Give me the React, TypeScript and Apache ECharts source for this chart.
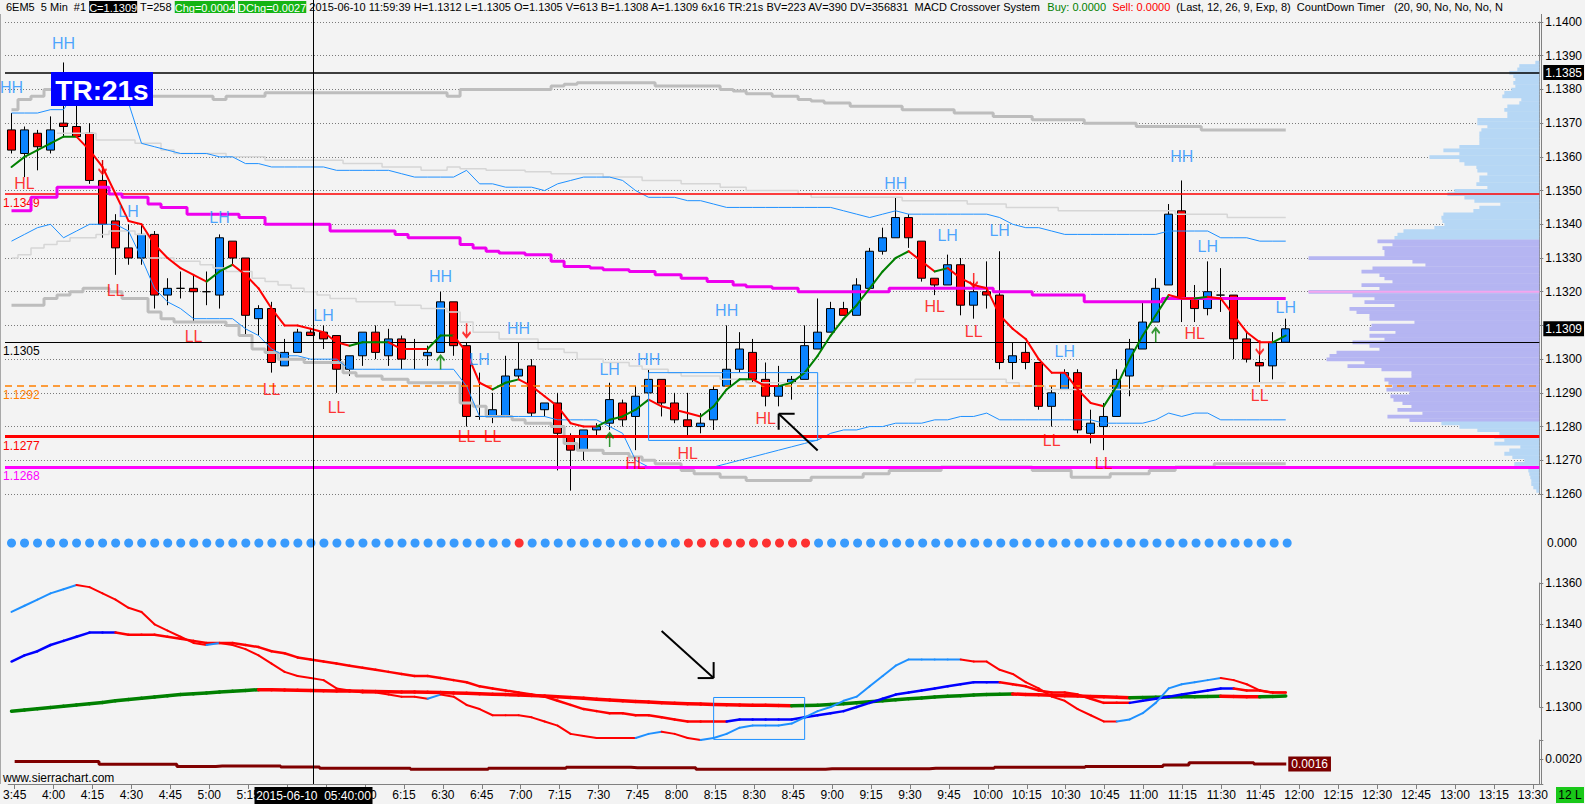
import React, { useEffect, useRef } from 'react';
import * as echarts from 'echarts';

// ---------- layout ----------
const GRID_L = 5;
const GRID_W = 1536;
const GRID_R = GRID_L + GRID_W;
const MAIN_TOP = 22, MAIN_H = 472;
const DOT_TOP = 533, DOT_H = 20;
const MACD_TOP = 583, MACD_H = 124;
const BOT_TOP = 740, BOT_H = 44;

const NARROW = "'Liberation Sans Narrow', 'Arial Narrow', 'Liberation Sans', Arial, sans-serif";
const SANS = "'Liberation Sans', Arial, sans-serif";
const BG = '#F3F3F3';
const CANDLE_BLUE = '#0A84FF';
const RED = '#FF0000';
const LBLUE = '#1E90FF';

// ---------- time axis ----------
const times: string[] = [];
for (let m = 3 * 60 + 45; m <= 13 * 60 + 30; m += 5) {
  times.push(`${Math.floor(m / 60)}:${String(m % 60).padStart(2, '0')}`);
}
const CROSSHAIR_TIME = '5:40';
// time labels completely covered by the crosshair time stamp in the reference
const coveredTimeLabels = ['5:30', '5:45'];
// price label covered by the last-price box in the reference
const coveredPriceLabels = [1.131];

// ---------- price bars (5 min, 6EM5) ----------
const opens = [1.1368,1.1361,1.1367,1.1362,1.1370,1.1369,1.1367,1.1353,1.1341,1.1333,
1.1330,1.1337,1.1319,1.1321,1.1321,1.1320,1.1319,1.1335,1.1330,1.1312,
1.1315,1.1298,1.1302,1.1308,1.1308,1.1307,1.1297,1.1301,1.1308,1.1301,
1.1306,1.1303,1.1301,1.1302,1.1317,1.1304,1.1283,1.1283,1.1283,1.1295,
1.1298,1.1285,1.1287,1.1277,1.1273,1.1279,1.1281,1.1287,1.1283,1.1290,
1.1294,1.1287,1.1282,1.1280,1.1282,1.1292,1.1297,1.1302,1.1294,1.1289,
1.1293,1.1294,1.1303,1.1308,1.1315,1.1313,1.1321,1.1332,1.1336,1.1342,
1.1335,1.1324,1.1322,1.1328,1.1316,1.1320,1.1319,1.1299,1.1302,1.1299,
1.1286,1.1291,1.1296,1.1278,1.1280,1.1283,1.1295,1.1303,1.1311,1.1322,
1.1344,1.1318,1.1315,1.1319,1.1319,1.1306,1.1299,1.1298,1.1305];
const highs = [1.1373,1.1369,1.1368,1.1372,1.1388,1.1378,1.1370,1.1359,1.1343,1.1340,
1.1340,1.1338,1.1324,1.1326,1.1325,1.1326,1.1337,1.1335,1.1330,1.1316,
1.1317,1.1306,1.1309,1.1309,1.1310,1.1307,1.1301,1.1308,1.1310,1.1309,
1.1307,1.1306,1.1304,1.1320,1.1317,1.1305,1.1296,1.1290,1.1301,1.1305,
1.1300,1.1287,1.1290,1.1278,1.1279,1.1281,1.1293,1.1288,1.1292,1.1297,
1.1294,1.1290,1.1290,1.1284,1.1292,1.1310,1.1308,1.1306,1.1299,1.1298,
1.1295,1.1310,1.1318,1.1317,1.1317,1.1324,1.1333,1.1339,1.1348,1.1343,
1.1335,1.1324,1.1331,1.1330,1.1323,1.1329,1.1332,1.1305,1.1305,1.1299,
1.1292,1.1297,1.1297,1.1285,1.1287,1.1297,1.1306,1.1317,1.1324,1.1346,
1.1353,1.1322,1.1329,1.1327,1.1319,1.1308,1.1302,1.1308,1.1312];
const lows = [1.1361,1.1354,1.1356,1.1361,1.1366,1.1366,1.1352,1.1336,1.1325,1.1328,
1.1328,1.1315,1.1316,1.1318,1.1311,1.1316,1.1315,1.1328,1.1307,1.1307,
1.1296,1.1298,1.1302,1.1307,1.1303,1.1290,1.1295,1.1298,1.1300,1.1298,
1.1297,1.1297,1.1298,1.1302,1.1301,1.1280,1.1282,1.1281,1.1283,1.1294,
1.1283,1.1283,1.1267,1.1261,1.1270,1.1277,1.1279,1.1280,1.1273,1.1289,
1.1283,1.1281,1.1277,1.1278,1.1279,1.1292,1.1296,1.1293,1.1286,1.1286,
1.1288,1.1294,1.1303,1.1308,1.1313,1.1313,1.1321,1.1331,1.1336,1.1333,
1.1323,1.1319,1.1322,1.1313,1.1312,1.1315,1.1297,1.1294,1.1297,1.1285,
1.1280,1.1291,1.1278,1.1275,1.1273,1.1283,1.1289,1.1303,1.1311,1.1322,
1.1311,1.1311,1.1313,1.1314,1.1300,1.1299,1.1293,1.1294,1.1305];
const closes = [1.1362,1.1368,1.1363,1.1368,1.1369,1.1366,1.1353,1.1340,1.1333,1.1330,
1.1337,1.1319,1.1321,1.1321,1.1320,1.1320,1.1336,1.1330,1.1313,1.1315,
1.1299,1.1302,1.1308,1.1307,1.1306,1.1297,1.1301,1.1308,1.1302,1.1306,
1.1300,1.1303,1.1302,1.1317,1.1304,1.1283,1.1283,1.1285,1.1295,1.1297,
1.1284,1.1287,1.1278,1.1273,1.1279,1.1280,1.1288,1.1282,1.1289,1.1294,
1.1287,1.1282,1.1280,1.1281,1.1291,1.1297,1.1303,1.1294,1.1289,1.1292,
1.1294,1.1304,1.1308,1.1315,1.1313,1.1322,1.1332,1.1336,1.1342,1.1336,
1.1324,1.1322,1.1328,1.1316,1.1320,1.1319,1.1299,1.1301,1.1299,1.1286,
1.1290,1.1296,1.1279,1.1281,1.1283,1.1294,1.1303,1.1311,1.1321,1.1343,
1.1318,1.1315,1.1320,1.1319,1.1306,1.1300,1.1298,1.1305,1.1309];

// ---------- main panel studies ----------
const maLine = [1.1357,1.1360,1.1362,1.1364,1.1366,1.1366,1.1362,1.1357,1.1349,1.1341,
1.1340,1.1334,1.1330,1.1327,1.1325,1.1323,1.1326,1.1328,1.1325,1.1321,
1.1315,1.1310,1.1310,1.1309,1.1308,1.1305,1.1304,1.1305,1.1305,1.1305,
1.1303,1.1303,1.1303,1.1307,1.1307,1.1302,1.1293,1.1291,1.1293,1.1294,
1.1292,1.1289,1.1286,1.1281,1.1280,1.1280,1.1282,1.1283,1.1285,1.1288,
1.1286,1.1285,1.1284,1.1283,1.1286,1.1291,1.1294,1.1294,1.1292,1.1292,
1.1293,1.1296,1.1301,1.1307,1.1312,1.1316,1.1321,1.1326,1.1330,1.1332,
1.1329,1.1326,1.1327,1.1324,1.1322,1.1321,1.1313,1.1309,1.1306,1.1300,
1.1296,1.1296,1.1291,1.1287,1.1286,1.1292,1.1300,1.1307,1.1313,1.1319,
1.1318,1.1318,1.13185,1.1318,1.1313,1.1308,1.1305,1.1305,1.1307];

const magentaLine = [1.1344,1.1344,1.1348,1.1348,1.1351,1.1351,1.1351,1.1351,1.1349,1.1348,
1.1348,1.1346,1.1345,1.1345,1.1343,1.1343,1.1343,1.1343,1.1342,1.1342,
1.1340,1.1340,1.1340,1.1340,1.1340,1.1338,1.1338,1.1338,1.1338,1.1338,
1.1337,1.1336,1.1336,1.1336,1.1336,1.1334,1.1333,1.1332,1.13315,1.13315,
1.1331,1.1331,1.1329,1.13275,1.13275,1.1327,1.13265,1.13265,1.1326,1.1326,
1.1325,1.1325,1.1324,1.1324,1.1323,1.1323,1.1322,1.13215,1.13215,1.1321,
1.1321,1.1320,1.1320,1.1320,1.1320,1.1320,1.1320,1.1320,1.1321,1.1321,
1.1321,1.1321,1.1321,1.1321,1.1321,1.1321,1.1320,1.1320,1.1320,1.1319,
1.1319,1.1319,1.1319,1.1317,1.1317,1.1317,1.1317,1.1317,1.1317,1.1318,
1.1318,1.1318,1.1318,1.1318,1.1318,1.1318,1.1318,1.1318,1.1318];

const grayTop = [1.1374,1.1377,1.1378,1.1380,1.1380,1.1380,1.1380,1.1380,1.1379,1.1379,
1.1379,1.1378,1.1378,1.1378,1.1378,1.1378,1.1377,1.1378,1.1378,1.1378,
1.1379,1.1379,1.1379,1.1379,1.1379,1.1379,1.1379,1.1379,1.1379,1.1379,
1.1379,1.1379,1.1379,1.1379,1.1378,1.1380,1.1380,1.1380,1.1380,1.1380,
1.1380,1.1380,1.1381,1.13815,1.1382,1.1382,1.1382,1.1382,1.1382,1.1382,
1.1381,1.1381,1.1381,1.1381,1.1381,1.1380,1.13795,1.13787,1.13787,1.1378,
1.1378,1.1377,1.13766,1.1376,1.1376,1.1375,1.1375,1.1375,1.1375,1.1374,
1.1374,1.1374,1.1374,1.1373,1.1373,1.1373,1.1372,1.1372,1.1372,1.1371,
1.1371,1.1371,1.1371,1.1370,1.1370,1.1370,1.1370,1.1369,1.1369,1.1369,
1.1369,1.1369,1.1368,1.1368,1.1368,1.1368,1.1368,1.1368,1.1368];

const grayLow = [1.1316,1.1316,1.1316,1.1318,1.1319,1.1320,1.1321,1.1321,1.1320,1.1318,
1.1318,1.1314,1.1312,1.1311,1.1311,1.1311,1.1311,1.1310,1.1307,1.1303,
1.1302,1.1300,1.1300,1.1299,1.1299,1.1299,1.1296,1.1295,1.1295,1.1294,
1.1294,1.1293,1.1293,1.1293,1.1293,1.1287,1.1286,1.1283,1.1283,1.1282,
1.1281,1.1281,1.1280,1.1275,1.1273,1.1273,1.1272,1.1272,1.1271,1.1270,
1.1269,1.1269,1.1267,1.1266,1.1266,1.1265,1.1265,1.1264,1.1264,1.1264,
1.1264,1.1264,1.1265,1.1265,1.1265,1.1265,1.1266,1.1266,1.1267,1.1267,
1.1267,1.1267,1.1268,1.1268,1.1268,1.1268,1.1268,1.1268,1.1268,1.1267,
1.1267,1.1267,1.1265,1.1265,1.1265,1.1266,1.1266,1.1266,1.1267,1.1267,
1.1268,1.1268,1.1268,1.1269,1.1269,1.1269,1.1269,1.1269,1.1269];

const lightGrayUp = [null,null,null,null,1.1367,1.1367,1.1367,1.1365,1.1365,1.1365,
1.1364,1.1364,1.1362,1.1361,1.1361,1.1361,1.1361,1.1360,1.1360,1.1360,
1.1359,1.1359,1.1359,1.1359,1.1359,1.1359,1.1358,1.1358,1.1358,1.1357,
1.1357,1.1357,1.1356,1.1356,1.1357,1.13565,1.13565,1.1356,1.1356,1.1356,
1.13556,1.13556,1.1355,1.1355,1.1355,1.1355,1.1354,1.1354,1.1354,1.1353,
1.1353,1.1353,1.1352,1.1352,1.1352,1.1351,1.1351,1.1350,1.1350,1.1350,
1.1350,1.1349,1.1348,1.1348,1.1348,1.1348,1.1348,1.1348,1.1348,1.1347,
1.1347,1.1347,1.1347,1.1347,1.1346,1.1346,1.1346,1.1345,1.1345,1.1345,
1.1345,1.1344,1.1344,1.1344,1.1344,1.1344,1.1344,1.1344,1.1344,1.1344,
1.1343,1.1343,1.1343,1.1343,1.1342,1.1342,1.1342,1.1342,1.1342];

const lightGrayLow = [1.1330,1.1331,1.1333,1.1334,1.1335,1.1336,1.1336,1.1337,1.1338,1.1338,
1.1337,1.1330,1.1330,1.1329,1.1329,1.1328,1.1327,1.1326,1.1326,1.1324,
1.1323,1.1322,1.1321,1.1320,1.1319,1.1318,1.1318,1.1317,1.1317,1.1317,
1.1316,1.1316,1.1315,1.1315,1.1314,1.1311,1.1308,1.1308,1.1306,1.1306,
1.1306,1.1303,1.1303,1.1302,1.1300,1.1300,1.1299,1.1299,1.1298,1.1297,
1.1297,1.1296,1.1295,1.1295,1.1295,1.1294,1.1294,1.1293,1.1293,1.1293,
1.1293,1.1293,1.1293,1.1293,1.1293,1.1293,1.1293,1.1293,1.1293,1.1293,
1.1294,1.1294,1.1294,1.1294,1.1294,1.1294,1.1294,1.1293,1.1292,1.1292,
1.1291,1.1291,1.1291,1.1291,1.1291,1.1291,1.1291,1.1291,1.1291,1.1292,
1.1292,1.1293,1.1293,1.1293,1.1293,1.1293,1.1293,1.1293,1.1293];

const blueUpper = [1.1373,1.1373,1.1373,1.1374,1.1374,1.1380,1.1381,1.1381,1.1381,1.1376,
1.1364,1.1363,1.1362,1.1361,1.1361,1.1361,1.1360,1.1360,1.1358,1.1358,
1.1357,1.1357,1.1357,1.1357,1.1357,1.1356,1.1356,1.1356,1.1356,1.1356,
1.1355,1.1354,1.1354,1.1354,1.1354,1.1356,1.1352,1.1352,1.1351,1.1351,
1.1351,1.1350,1.1352,1.1353,1.1354,1.1354,1.1354,1.1353,1.1350,1.1348,
1.1348,1.1348,1.1347,1.1347,1.1346,1.1345,1.1345,1.1345,1.1345,1.1345,
1.1345,1.1345,1.1345,1.1345,1.1344,1.1343,1.1342,1.1343,1.1344,1.1343,
1.1343,1.1343,1.1343,1.1343,1.1343,1.1343,1.1342,1.1340,1.1339,1.1339,
1.1338,1.1337,1.1337,1.1337,1.1337,1.1337,1.1337,1.1337,1.1337,1.1338,
1.1338,1.1338,1.1338,1.1336,1.1336,1.1336,1.1335,1.1335,1.1335];

const blueLower = [1.1335,1.1337,1.1339,1.1340,1.1336,1.1338,1.1340,1.1340,1.1340,1.1338,
1.1330,1.1321,1.1317,1.1315,1.1312,1.1312,1.1312,1.1312,1.1309,1.1307,
1.1303,1.1301,1.1301,1.1300,1.1300,1.1300,1.1297,1.1297,1.1297,1.1297,
1.1297,1.1297,1.1297,1.1297,1.1297,1.1292,1.1283,1.1283,1.1283,1.1283,
1.1283,1.1283,1.1282,1.1282,1.1282,1.1282,1.1280,1.1278,1.1270,1.1268,
1.1268,1.1268,1.1268,1.1268,1.1268,1.1269,1.1270,1.1271,1.1272,1.1273,
1.1274,1.1275,1.1276,1.1278,1.1279,1.1279,1.1280,1.1280,1.1281,1.1281,
1.1281,1.1282,1.1282,1.1283,1.1283,1.1284,1.1282,1.1282,1.1282,1.1282,
1.1282,1.1282,1.1282,1.1282,1.1281,1.1281,1.1281,1.1281,1.1282,1.1284,
1.1283,1.1284,1.1284,1.1282,1.1282,1.1282,1.1282,1.1282,1.1282];

// horizontal levels
const levelLines = [
  { value: 1.1385, color: '#000000', width: 1.5, dash: 'solid', leftLabel: false, rightLabel: true },
  { value: 1.1349, color: '#FF0000', width: 1.5, dash: 'solid', leftLabel: true, rightLabel: false },
  { value: 1.1305, color: '#000000', width: 1, dash: 'solid', leftLabel: true, rightLabel: false },
  { value: 1.1292, color: '#FF8000', width: 1.5, dash: [7, 5], leftLabel: true, rightLabel: false },
  { value: 1.1277, color: '#FF0000', width: 3, dash: 'solid', leftLabel: true, rightLabel: false },
  { value: 1.1268, color: '#FF00FF', width: 3, dash: 'solid', leftLabel: true, rightLabel: false },
];
const lastPrice = 1.1309;

// swing labels
const swingText = ['HH','HH','HL','LH','LL','LH','LL','LL','LH','LL','HH','LH','LL','LL','HH','LH','HL','HH','HL','HH','HL','HH','LH','LH','HL','LL','LH','LL','LL','HH','LH','HL','LH','LL'];
const swingIdx = [4,0,1,9,8,16,14,20,24,25,33,36,35,37,39,46,48,49,52,55,58,68,72,76,71,74,81,80,84,90,92,91,98,96];
const swingPrice = [1.13935,1.13807,1.13522,1.13438,1.13205,1.1342,1.13068,1.12911,1.1313,1.12857,1.13244,1.1300,1.12771,1.12771,1.1309,1.1297,1.1269,1.1300,1.1272,1.13143,1.12824,1.13521,1.13366,1.13381,1.13155,1.13083,1.13024,1.12759,1.1269,1.13601,1.13333,1.13077,1.13152,1.12893];

// crossover arrows
const downArrowIdx = [7, 35, 74, 96];
const downArrowPrice = [1.1357, 1.13086, 1.13235, 1.13036];
const upArrowIdx = [33, 46, 88];
const upArrowPrice = [1.1299, 1.1276, 1.13071];

// volume profile
const profilePrices = [1.1388,1.1387,1.1386,1.1385,1.1384,1.1383,1.1382,1.1381,1.1380,1.1379,
1.1378,1.1377,1.1376,1.1375,1.1374,1.1373,1.1372,1.1371,1.1370,1.1369,
1.1368,1.1367,1.1366,1.1365,1.1364,1.1363,1.1362,1.1361,1.1360,1.1359,
1.1358,1.1357,1.1356,1.1355,1.1354,1.1353,1.1352,1.1351,1.1350,1.1349,
1.1348,1.1347,1.1346,1.1345,1.1344,1.1343,1.1342,1.1341,1.1340,1.1339,
1.1338,1.1337,1.1336,1.1335,1.1334,1.1333,1.1332,1.1331,1.1330,1.1329,
1.1328,1.1327,1.1326,1.1325,1.1324,1.1323,1.1322,1.1321,1.1320,1.1319,
1.1318,1.1317,1.1316,1.1315,1.1314,1.1313,1.1312,1.1311,1.1310,1.1309,
1.1308,1.1307,1.1306,1.1305,1.1304,1.1303,1.1302,1.1301,1.1300,1.1299,
1.1298,1.1297,1.1296,1.1295,1.1294,1.1293,1.1292,1.1291,1.1290,1.1289,
1.1288,1.1287,1.1286,1.1285,1.1284,1.1283,1.1282,1.1281,1.1280,1.1279,
1.1278,1.1277,1.1276,1.1275,1.1274,1.1273,1.1272,1.1271,1.1270,1.1269,
1.1268,1.1267,1.1266,1.1265,1.1264,1.1263,1.1262,1.1261];
const profileVols = [4,20,22,30,26,24,26,24,28,35,
37,18,20,32,35,32,32,62,62,52,
58,60,60,60,60,80,96,80,110,80,
75,63,62,52,60,60,63,52,85,92,
75,65,39,60,66,96,98,97,95,105,
136,142,145,162,147,157,155,155,231,127,
114,167,178,160,155,147,178,160,231,187,
165,175,145,190,183,170,170,125,168,170,
144,170,155,187,170,160,203,210,213,175,
192,158,128,128,155,151,147,153,130,149,
146,137,128,142,117,152,130,98,80,62,
40,45,35,45,19,30,35,27,15,25,
25,11,10,9,8,8,6,3];
const valueAreaHigh = 1.1335;
const valueAreaLow = 1.1282;
const pocPrice = 1.1320;

// annotations (data space)
const mainBox = { i0: 49, i1: 62, hi: 1.1296, lo: 1.12759 };
const mainArrow = { head: [59, 1.12838], tail: [62, 1.12729] };
const macdBox = { i0: 54, i1: 61, hi: 1.13046, lo: 1.12843 };
const macdArrow = { head: [54, 1.1314], tail: [50, 1.13368] };

// ---------- MACD crossover signal dots ----------
const dotState = 'BBBBBBBBBBBBBBBBBBBBBBBBBBBBBBBBBBBBBBBRBBBBBBBBBBBBRRRRRRRRRRBBBBBBBBBBBBBBBBBBBBBBBBBBBBBBBBBBBBB';

// ---------- moving averages panel ----------
const maFast = [1.1346,1.1349,1.1352,1.1355,1.1357,1.1359,1.1358,1.1355,1.1352,1.1348,
1.1346,1.1340,1.1337,1.1334,1.1331,1.1330,1.1331,1.1330,1.1328,1.1325,
1.1321,1.1317,1.1315,1.1314,1.1313,1.1309,1.1308,1.1307,1.1307,1.1306,
1.1305,1.1305,1.1304,1.1306,1.1305,1.1301,1.1299,1.1296,1.1296,1.1296,
1.1295,1.1293,1.1291,1.1287,1.1286,1.1285,1.1285,1.1285,1.1285,1.1287,
1.1288,1.1287,1.1285,1.1284,1.1285,1.1287,1.1290,1.1291,1.1291,1.1291,
1.1292,1.1295,1.1298,1.1300,1.1303,1.1305,1.1310,1.1315,1.1320,1.1323,
1.1323,1.1323,1.1323,1.1323,1.1322,1.1322,1.1318,1.1316,1.1312,1.1309,
1.1305,1.1303,1.1299,1.1296,1.1293,1.1293,1.1294,1.1297,1.1302,1.1309,
1.1311,1.1312,1.1313,1.1314,1.1313,1.1311,1.1308,1.1307,1.1307];
const maMid = [1.1322,1.1325,1.1327,1.1330,1.1332,1.1334,1.1336,1.1336,1.1336,1.1335,
1.1335,1.1335,1.1334,1.1333,1.1332,1.1331,1.1331,1.1331,1.1330,1.1329,
1.1327,1.1326,1.1324,1.1323,1.1322,1.1321,1.1320,1.1319,1.1318,1.1317,
1.1316,1.1315,1.1315,1.1314,1.1313,1.1312,1.1310,1.1309,1.1308,1.1307,
1.1306,1.1305,1.1303,1.1301,1.1299,1.1298,1.1297,1.1297,1.1296,1.1296,
1.1295,1.1294,1.1293,1.1293,1.1293,1.1293,1.1294,1.1294,1.1294,1.1294,
1.1294,1.1295,1.1296,1.1297,1.1298,1.1300,1.1302,1.1304,1.1306,1.1307,
1.1308,1.1309,1.1310,1.1311,1.1312,1.1312,1.1312,1.1311,1.1310,1.1308,
1.1307,1.1307,1.1306,1.1304,1.1302,1.1302,1.1302,1.1303,1.1304,1.1305,
1.1306,1.1307,1.1308,1.1309,1.1309,1.1308,1.1308,1.1307,1.1307];
const maSlow = [1.12980,1.12986,1.12992,1.12998,1.13004,1.13010,1.13016,1.13022,1.13030,1.13036,
1.13042,1.13048,1.13054,1.13060,1.13064,1.13068,1.13072,1.13076,1.13080,1.13084,
1.13083,1.13082,1.13081,1.13080,1.13079,1.13078,1.13077,1.13076,1.13075,1.13074,
1.13073,1.13072,1.13071,1.13070,1.13068,1.13066,1.13064,1.13062,1.13060,1.13058,
1.13056,1.13053,1.13050,1.13046,1.13042,1.13038,1.13034,1.13030,1.13027,1.13024,
1.13021,1.13018,1.13016,1.13014,1.13012,1.13011,1.13010,1.13009,1.13008,1.13007,
1.13006,1.13007,1.13009,1.13012,1.13016,1.13020,1.13025,1.13030,1.13035,1.13040,
1.13044,1.13048,1.13052,1.13055,1.13058,1.13060,1.13062,1.13063,1.13061,1.13059,
1.13057,1.13055,1.13053,1.13051,1.13049,1.13047,1.13045,1.13046,1.13047,1.13048,
1.13049,1.13050,1.13051,1.13052,1.13051,1.13050,1.13049,1.13051,1.13053];

// ---------- bottom oscillator ----------
const bottomLine = [0.00178,0.00178,0.00178,0.00178,0.00178,0.00178,0.00178,0.00158,0.00158,0.00158,
0.00158,0.00158,0.00158,0.00140,0.00140,0.00140,0.00144,0.00144,0.00144,0.00144,
0.00144,0.00136,0.00136,0.00136,0.00126,0.00126,0.00126,0.00126,0.00126,0.00126,
0.00126,0.00118,0.00118,0.00118,0.00118,0.00118,0.00118,0.00126,0.00126,0.00126,
0.00126,0.00126,0.00126,0.00134,0.00134,0.00134,0.00134,0.00134,0.00130,0.00130,
0.00130,0.00130,0.00130,0.00118,0.00118,0.00118,0.00118,0.00118,0.00118,0.00118,
0.00118,0.00118,0.00118,0.00122,0.00122,0.00122,0.00122,0.00122,0.00122,0.00122,
0.00122,0.00126,0.00126,0.00126,0.00126,0.00126,0.00134,0.00134,0.00134,0.00134,
0.00134,0.00134,0.00134,0.00140,0.00140,0.00140,0.00140,0.00140,0.00140,0.00152,
0.00152,0.00170,0.00170,0.00170,0.00170,0.00170,0.00160,0.00160,0.00160];

const mainAxisTicks = { min: 1.126, max: 1.140, interval: 0.001 };
const macdAxisTicks = { min: 1.13, max: 1.136, interval: 0.002 };
const dotAxisLabels = [0];
const bottomAxisLabels = [0.002];

// ---------- helpers ----------
function segSeries(vals: number[], up: string, down: string, width: number, axis: number, z: number) {
  const data: number[][] = [];
  let dir = 1;
  for (let i = 0; i < vals.length - 1; i++) {
    const a = vals[i], b = vals[i + 1];
    if (b > a) dir = 1; else if (b < a) dir = 0;
    data.push([i, a, b, dir]);
  }
  return {
    type: 'custom', xAxisIndex: axis, yAxisIndex: axis, clip: false, silent: true, z,
    encode: { x: 0, y: [1, 2] },
    data,
    renderItem: (params: any, api: any) => {
      const i = api.value(0);
      const p0 = api.coord([i, api.value(1)]);
      const p1 = api.coord([i + 1, api.value(2)]);
      return {
        type: 'line',
        shape: { x1: p0[0], y1: p0[1], x2: p1[0], y2: p1[1] },
        style: { stroke: api.value(3) ? up : down, lineWidth: width, lineCap: 'round' },
      };
    },
  };
}

function lineS(data: (number | null)[], color: string, width: number, step: any, z: number, extra: any = {}) {
  return {
    type: 'line', xAxisIndex: 0, yAxisIndex: 0, data, showSymbol: false, symbol: 'none',
    step, silent: true, connectNulls: false, z,
    lineStyle: { color, width }, ...extra,
  };
}

const near = (list: number[], v: number) => list.some((d) => Math.abs(d - v) < 1e-9);

function buildOption() {
  const grids = [
    { left: GRID_L, width: GRID_W, top: MAIN_TOP, height: MAIN_H },
    { left: GRID_L, width: GRID_W, top: DOT_TOP, height: DOT_H },
    { left: GRID_L, width: GRID_W, top: MACD_TOP, height: MACD_H },
    { left: GRID_L, width: GRID_W, top: BOT_TOP, height: BOT_H },
  ];
  const xAxes: any[] = grids.map((_, g) => ({
    type: 'category', gridIndex: g, data: times, boundaryGap: true, show: g === 3,
    axisLine: { show: true, lineStyle: { color: '#808080' } },
    axisTick: { show: true, interval: 2, alignWithLabel: true, length: 5, lineStyle: { color: '#808080' } },
    axisLabel: {
      interval: 2, fontSize: 12, color: '#000', fontFamily: NARROW, margin: 5,
      formatter: (v: string) => (coveredTimeLabels.includes(v) ? '' : v),
    },
    splitLine: { show: false },
  }));
  xAxes.push({ type: 'value', gridIndex: 0, inverse: true, min: 0, max: GRID_W, show: false });

  const axisCommon = {
    position: 'right',
    axisLine: { show: true, lineStyle: { color: '#808080' } },
    axisTick: { show: true, length: 4, lineStyle: { color: '#808080' } },
  };
  const yAxes = [
    {
      ...axisCommon, type: 'value', gridIndex: 0, ...mainAxisTicks,
      axisLabel: { formatter: (v: number) => (near(coveredPriceLabels, v) ? '' : v.toFixed(4)), fontSize: 12, color: '#000', fontFamily: NARROW, margin: 6 },
      splitLine: { show: true, lineStyle: { color: '#7A7A7A', type: [1, 2], width: 1 } },
    },
    {
      ...axisCommon, type: 'value', gridIndex: 1, min: -1, max: 1, interval: 1,
      axisTick: { show: false },
      axisLabel: { formatter: (v: number) => (near(dotAxisLabels, v) ? v.toFixed(3) : ''), fontSize: 12, color: '#000', fontFamily: NARROW, margin: 6 },
      splitLine: { show: false },
    },
    {
      ...axisCommon, type: 'value', gridIndex: 2, ...macdAxisTicks,
      axisLabel: { formatter: (v: number) => v.toFixed(4), fontSize: 12, color: '#000', fontFamily: NARROW, margin: 6 },
      splitLine: { show: false },
    },
    {
      ...axisCommon, type: 'value', gridIndex: 3, min: 0, max: 0.0035, interval: 0.002,
      axisLabel: { formatter: (v: number) => (near(bottomAxisLabels, v) ? v.toFixed(4) : ''), fontSize: 12, color: '#000', fontFamily: NARROW, margin: 6 },
      splitLine: { show: false },
    },
  ];

  const markLineData: any[] = [];
  levelLines.forEach((l) => {
    markLineData.push({
      yAxis: l.value,
      lineStyle: { color: l.color, width: l.width, type: l.dash },
      label: l.rightLabel
        ? { show: true, position: 'end', formatter: l.value.toFixed(4), color: '#fff', backgroundColor: '#000', padding: [2, 2, 1, 2], fontSize: 12, fontFamily: NARROW, distance: 4 }
        : l.leftLabel
        ? { show: true, position: 'insideStartBottom', formatter: l.value.toFixed(4), color: l.color, fontSize: 12, fontFamily: NARROW, distance: [-2, 3] }
        : { show: false },
    });
  });
  markLineData.push({
    yAxis: lastPrice,
    lineStyle: { color: 'rgba(0,0,0,0)', width: 1, type: 'solid' },
    label: { show: true, position: 'end', formatter: lastPrice.toFixed(4), color: '#fff', backgroundColor: '#000', padding: [2, 2, 1, 2], fontSize: 12, fontFamily: NARROW, distance: 4 },
  });

  const series: any[] = [
    // volume profile
    {
      type: 'custom', xAxisIndex: 4, yAxisIndex: 0, silent: true, z: 1,
      encode: { x: 0, y: 1 },
      data: profilePrices.map((p, k) => [profileVols[k], p]),
      renderItem: (params: any, api: any) => {
        const v = api.value(0), p = api.value(1);
        const a = api.coord([0, p + 0.00005]);
        const b = api.coord([v, p - 0.00005]);
        const inVA = p <= valueAreaHigh + 1e-9 && p >= valueAreaLow - 1e-9;
        const rect = {
          type: 'rect',
          shape: { x: b[0], y: a[1], width: a[0] - b[0], height: b[1] - a[1] + 0.4 },
          style: { fill: inVA ? '#B5B5F2' : '#B6D7F5' },
        };
        if (Math.abs(p - pocPrice) < 1e-9) {
          const c = api.coord([v, p]);
          return { type: 'group', children: [rect, { type: 'line', shape: { x1: c[0], y1: c[1], x2: a[0], y2: c[1] }, style: { stroke: '#F4A6EE', lineWidth: 2 } }] };
        }
        return rect;
      },
    },
    // candles
    {
      type: 'candlestick', xAxisIndex: 0, yAxisIndex: 0, barWidth: 9, z: 3, silent: true,
      data: opens.map((o, i) => [o, closes[i], lows[i], highs[i]]),
      itemStyle: { color: CANDLE_BLUE, color0: RED, borderColor: '#000', borderColor0: '#000', borderColorDoji: '#000', borderWidth: 1 },
    },
    lineS(grayTop, '#BDBDBD', 3, 'middle', 4),
    lineS(lightGrayUp, '#D6D6D6', 1.5, 'middle', 4),
    lineS(lightGrayLow, '#D6D6D6', 1.5, 'middle', 4),
    lineS(grayLow, '#BDBDBD', 3, 'middle', 4),
    lineS(blueUpper, LBLUE, 1, false, 4),
    lineS(blueLower, LBLUE, 1, false, 4),
    lineS(magentaLine, '#EE00EE', 3, 'middle', 5, {
      markLine: { symbol: ['none', 'none'], silent: true, precision: 5, data: markLineData },
    }),
    segSeries(maLine, '#008000', '#FF0000', 2, 0, 6),
    // swing labels
    {
      type: 'scatter', xAxisIndex: 0, yAxisIndex: 0, symbolSize: 1, silent: true, z: 8,
      itemStyle: { color: 'rgba(0,0,0,0)' },
      data: swingText.map((t, k) => ({
        value: [swingIdx[k], swingPrice[k]], name: t,
        label: { color: t.endsWith('H') ? LBLUE : RED },
      })),
      label: { show: true, formatter: '{b}', position: 'inside', fontSize: 16, fontFamily: NARROW },
    },
    // arrows
    {
      type: 'scatter', xAxisIndex: 0, yAxisIndex: 0, silent: true, z: 8,
      symbol: 'path://M4,0 L4,14 M0,9 L4,14 L8,9', symbolSize: [8, 14],
      itemStyle: { color: 'rgba(0,0,0,0)', borderColor: RED, borderWidth: 2 },
      data: downArrowIdx.map((i, k) => [i, downArrowPrice[k]]),
    },
    {
      type: 'scatter', xAxisIndex: 0, yAxisIndex: 0, silent: true, z: 8,
      symbol: 'path://M4,14 L4,0 M0,5 L4,0 L8,5', symbolSize: [8, 14],
      itemStyle: { color: 'rgba(0,0,0,0)', borderColor: '#008000', borderWidth: 2 },
      data: upArrowIdx.map((i, k) => [i, upArrowPrice[k]]),
    },
    // signal dots
    {
      type: 'scatter', xAxisIndex: 1, yAxisIndex: 1, symbolSize: 9, silent: true, z: 5,
      data: dotState.split('').map((c, i) => ({ value: [i, 0], itemStyle: { color: c === 'R' ? RED : CANDLE_BLUE } })),
    },
    segSeries(maSlow, '#008000', '#FF0000', 3.5, 2, 5),
    segSeries(maMid, '#0000FF', '#FF0000', 2.5, 2, 6),
    segSeries(maFast, LBLUE, '#FF0000', 2, 2, 7),
    // bottom line
    {
      type: 'line', xAxisIndex: 3, yAxisIndex: 3, data: bottomLine, showSymbol: false, symbol: 'none',
      step: 'middle', silent: true, lineStyle: { color: '#800000', width: 3 }, z: 5,
      endLabel: {
        show: true, formatter: (p: any) => Number(p.value).toFixed(4), color: '#fff', backgroundColor: '#7B0000',
        padding: [2, 3, 1, 3], fontSize: 12, fontFamily: NARROW, distance: 2,
      },
    },
  ];

  return {
    animation: false,
    backgroundColor: BG,
    grid: grids,
    xAxis: xAxes,
    yAxis: yAxes,
    series,
  };
}

function buildGraphics(chart: any) {
  const px = (axis: number, x: number, y: number) => chart.convertToPixel({ xAxisIndex: axis, yAxisIndex: axis }, [x, y]);
  const cx = Math.round(chart.convertToPixel({ xAxisIndex: 3 }, CROSSHAIR_TIME)) + 0.5;
  const g: any[] = [];

  // left border + right axis line
  g.push({ type: 'line', shape: { x1: 0.5, y1: 14, x2: 0.5, y2: 784 }, style: { stroke: '#A8A8A8', lineWidth: 1 }, z: 50 });
  g.push({ type: 'line', shape: { x1: GRID_R + 0.5, y1: 14, x2: GRID_R + 0.5, y2: 784 }, style: { stroke: '#808080', lineWidth: 1 }, z: 50 });

  // boxes
  const box = (axis: number, b: any) => {
    const a = px(axis, b.i0, b.hi);
    const c = px(axis, b.i1, b.lo);
    return { type: 'rect', shape: { x: a[0], y: a[1], width: c[0] - a[0], height: c[1] - a[1] }, style: { fill: 'none', stroke: LBLUE, lineWidth: 1 }, z: 60 };
  };
  g.push(box(0, mainBox));
  g.push(box(2, macdBox));

  const arrow = (axis: number, ar: any) => {
    const h = px(axis, ar.head[0], ar.head[1]);
    const t = px(axis, ar.tail[0], ar.tail[1]);
    const sx = Math.sign(t[0] - h[0]) * 16;
    const sy = Math.sign(t[1] - h[1]) * 16;
    const st = { stroke: '#000', lineWidth: 2 };
    return [
      { type: 'line', shape: { x1: t[0], y1: t[1], x2: h[0], y2: h[1] }, style: st, z: 60 },
      { type: 'line', shape: { x1: h[0], y1: h[1], x2: h[0] + sx, y2: h[1] }, style: st, z: 60 },
      { type: 'line', shape: { x1: h[0], y1: h[1], x2: h[0], y2: h[1] + sy }, style: st, z: 60 },
    ];
  };
  g.push(...arrow(0, mainArrow));
  g.push(...arrow(2, macdArrow));

  // crosshair
  g.push({ type: 'line', shape: { x1: cx, y1: 0, x2: cx, y2: 784 }, style: { stroke: '#000', lineWidth: 1 }, z: 70 });

  // TR box
  g.push({ type: 'rect', shape: { x: 51, y: 72, width: 102, height: 34 }, style: { fill: '#0000FF' }, z: 80 });
  g.push({ type: 'text', x: 102, y: 90, style: { text: 'TR:21s', fill: '#fff', font: `bold 28px ${SANS}`, align: 'center', verticalAlign: 'middle', textAlign: 'center', textVerticalAlign: 'middle' }, z: 81 });

  // header
  g.push({
    type: 'text', x: 6, y: 1, z: 90,
    style: {
      text: '{k|6EM5  5 Min  #1 }{c|C=1.1309}{k| T=258 }{g|Chg=0.0004}{k| }{g|DChg=0.0027}{k| 2015-06-10 11:59:39 H=1.1312 L=1.1305 O=1.1305 V=613 B=1.1308 A=1.1309 6x16 TR:21s BV=223 AV=390 DV=356831  MACD Crossover System  }{b|Buy: 0.0000}{k|  }{s|Sell: 0.0000}{k|  (Last, 12, 26, 9, Exp, 8)  CountDown Timer   (20, 90, No, No, No, N}',
      fontFamily: SANS, fontSize: 11, fill: '#000',
      width: GRID_R - 8, overflow: 'truncate', ellipsis: '',
      rich: {
        k: { fontFamily: SANS, fontSize: 11, fill: '#000', color: '#000' },
        c: { fontFamily: SANS, fontSize: 11, fill: '#fff', color: '#fff', backgroundColor: '#000', padding: [1, 0, 0, 0] },
        g: { fontFamily: SANS, fontSize: 11, fill: '#fff', color: '#fff', backgroundColor: '#14B414', padding: [1, 0, 0, 0] },
        b: { fontFamily: SANS, fontSize: 11, fill: '#008000', color: '#008000' },
        s: { fontFamily: SANS, fontSize: 11, fill: '#FF0000', color: '#FF0000' },
      },
    },
  });

  // timestamp at crosshair
  g.push({ type: 'rect', shape: { x: cx - 59, y: 787, width: 118, height: 17 }, style: { fill: '#000' }, z: 90 });
  g.push({ type: 'text', x: cx, y: 795.5, style: { text: '2015-06-10  05:40:00', fill: '#fff', font: `12px ${NARROW}`, align: 'center', verticalAlign: 'middle', textAlign: 'center', textVerticalAlign: 'middle' }, z: 91 });

  // footer texts
  g.push({ type: 'text', x: 3, y: 778, style: { text: 'www.sierrachart.com', fill: '#000', font: `12px ${SANS}`, verticalAlign: 'middle', textVerticalAlign: 'middle' }, z: 90 });
  g.push({ type: 'rect', shape: { x: 1556, y: 787, width: 28, height: 16 }, style: { fill: '#19C819' }, z: 90 });
  g.push({ type: 'text', x: 1570, y: 795, style: { text: '12 L', fill: '#000', font: `12px ${NARROW}`, align: 'center', verticalAlign: 'middle', textAlign: 'center', textVerticalAlign: 'middle' }, z: 91 });

  return g;
}

export default function App() {
  const ref = useRef<HTMLDivElement>(null);
  useEffect(() => {
    const chart = echarts.init(ref.current as HTMLDivElement, null, { renderer: 'svg' });
    chart.setOption(buildOption() as any);
    chart.setOption({ graphic: buildGraphics(chart) } as any);
    return () => chart.dispose();
  }, []);
  return (
    <div
      ref={ref}
      style={{ position: 'fixed', left: 0, top: 0, width: 1585, height: 804, background: BG }}
    />
  );
}
